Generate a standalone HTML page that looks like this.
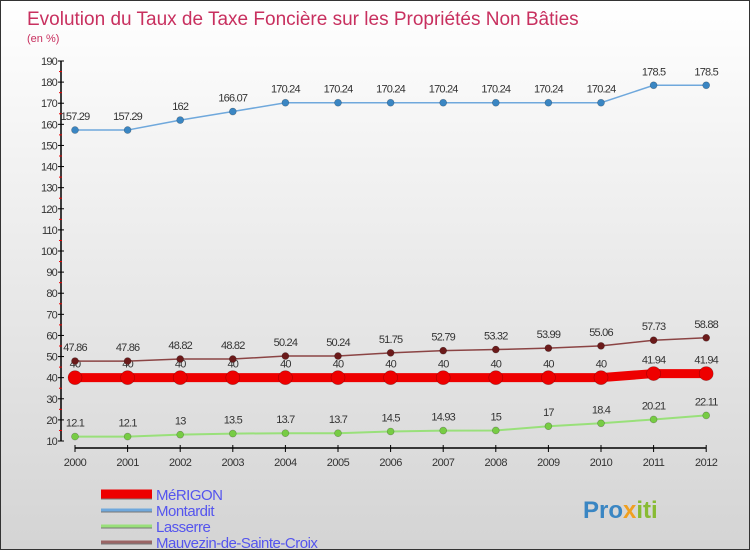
<!DOCTYPE html>
<html><head><meta charset="utf-8">
<style>
body{margin:0;width:750px;height:550px;overflow:hidden;font-family:"Liberation Sans",sans-serif}
#wrap{position:relative;width:748px;height:548px;border:1px solid #333;background:linear-gradient(#ffffff,#f2f2f2 30%,#d4d4d4)}
</style></head><body>
<div id="wrap">
<svg id="chart" width="748" height="548"></svg>
</div>
<script>
const years=[2000,2001,2002,2003,2004,2005,2006,2007,2008,2009,2010,2011,2012];
const merigon=[40,40,40,40,40,40,40,40,40,40,40,41.94,41.94];
const montardit=[157.29,157.29,162,166.07,170.24,170.24,170.24,170.24,170.24,170.24,170.24,178.5,178.5];
const lasserre=[12.1,12.1,13,13.5,13.7,13.7,14.5,14.93,15,17,18.4,20.21,22.11];
const mauvezin=[47.86,47.86,48.82,48.82,50.24,50.24,51.75,52.79,53.32,53.99,55.06,57.73,58.88];
const yTicks=[10,20,30,40,50,60,70,80,90,100,110,120,130,140,150,160,170,180,190];
const seriesNames=["MéRIGON","Montardit","Lasserre","Mauvezin-de-Sainte-Croix"];

const NS="http://www.w3.org/2000/svg";
const svg=document.getElementById('chart');
function X(i){return 74+i*52.6;}
function Y(v){return 440-(v-10)*(380/180);}
function mk(tag,attrs,parent){const e=document.createElementNS(NS,tag);for(const k in attrs)e.setAttribute(k,attrs[k]);(parent||svg).appendChild(e);return e;}
function txt(s,attrs,parent){const e=mk('text',attrs,parent);e.textContent=s;return e;}

const t1=txt("Evolution du Taux de Taxe Foncière sur les Propriétés Non Bâties",{x:26,y:24,'font-size':19,fill:'#c8305f'});


const t2=txt("(en %)",{x:26,y:41,'font-size':11,fill:'#c8305f'});



// axes
const ya=mk('line',{x1:60,y1:Y(190),x2:60,y2:Y(10),stroke:'#000','stroke-width':1.5});


yTicks.forEach((v,i)=>{
  mk('line',{x1:57,x2:63,y1:Y(v),y2:Y(v),stroke:'#000'});
  const l=txt(String(v),{x:56,y:Y(v)+4,'font-size':11,fill:'#333','text-anchor':'end','letter-spacing':'-0.8'});
  
  
  if(i<yTicks.length-1) mk('line',{x1:58,x2:61,y1:Y(v+5),y2:Y(v+5),stroke:'#e00'});
});
const xa=mk('line',{x1:74,y1:447,x2:X(12),y2:447,stroke:'#000','stroke-width':1.5});


years.forEach((yr,i)=>{
  mk('line',{x1:X(i),x2:X(i),y1:444,y2:451,stroke:'#000'});
  const l=txt(String(yr),{x:X(i),y:465,'font-size':11,fill:'#333','text-anchor':'middle','letter-spacing':'-0.5'});
  
  
});

function series(vals,color,dot,lw,r,name,labelDy,labelColor){
  const g=mk('g',{});
  
  
  mk('polyline',{points:vals.map((v,i)=>X(i)+','+Y(v)).join(' '),fill:'none',stroke:color,'stroke-width':lw},g);
  vals.forEach((v,i)=>{
    const c=mk('circle',{cx:X(i),cy:Y(v),r:r,fill:dot,stroke:'rgba(0,0,0,0.3)','stroke-width':0.6},g);
    
    
    const l=txt(String(v),{x:X(i),y:Y(v)+labelDy,'font-size':11,fill:labelColor||'#333','text-anchor':'middle','letter-spacing':'-0.8'},g);
    
    
  });
}
series(montardit,'#6fa8dc','#3a86c3',1.5,3.5,'montardit-series',-10);
series(lasserre,'#99e07a','#77cc44',2,3.5,'lasserre-series',-10);
series(merigon,'#ee0000','#ee0000',9,7,'merigon-series',-10);
series(mauvezin,'#8b4444','#6b1a1a',1.5,3.5,'mauvezin-series',-10);

// legend
const legColors=['#ee0000','#6fa8dc','#99e07a','#9a6565'];
const legW=[9,3,3,3];
seriesNames.forEach((n,i)=>{
  const y=493+i*16;
  const g=mk('g',{});
  
  
  mk('line',{x1:100,x2:151,y1:y+1,y2:y+1,stroke:'#777','stroke-width':legW[i]},g);
  mk('line',{x1:100,x2:151,y1:y,y2:y,stroke:legColors[i],'stroke-width':legW[i]},g);
  txt(n,{x:155,y:y+6,'font-size':15,fill:'#5555ee','letter-spacing':'-0.5'},g);
});
const logo=txt("",{x:582,y:517,'font-size':24,'font-weight':'bold'});


[["Pro","#3a86c3"],["x","#f0a020"],["iti","#88bb33"]].forEach(p=>{const s=document.createElementNS(NS,'tspan');s.setAttribute('fill',p[1]);s.textContent=p[0];logo.appendChild(s);});
</script>
</body></html>
